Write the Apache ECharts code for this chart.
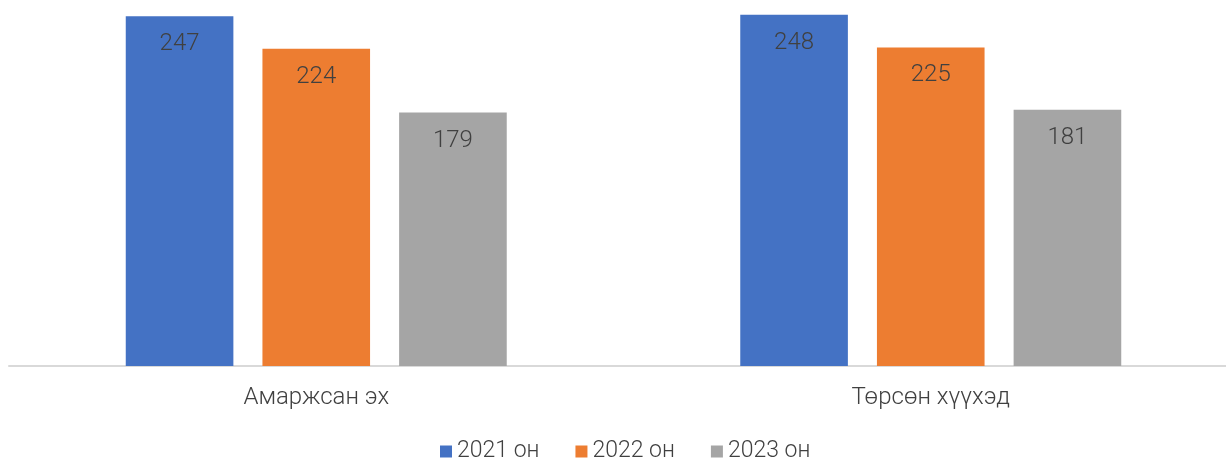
<!DOCTYPE html>
<html><head><meta charset="utf-8">
<script src="https://cdn.jsdelivr.net/npm/echarts@6/dist/echarts.min.js"></script>
<style>html,body{margin:0;padding:0;background:#fff;overflow:hidden;width:1226px;height:459px}#c{width:1238px;height:459px}</style>
</head><body><div id="c"></div>
<script>
const categories = ['Амаржсан эх', 'Төрсөн хүүхэд'];
const seriesNames = ['2021 он', '2022 он', '2023 он'];
const values2021 = [247, 248];
const values2022 = [224, 225];
const values2023 = [179, 181];
const colors = ['#4472C4', '#ED7D31', '#A5A5A5'];
const allValues = [values2021, values2022, values2023];

const chart = echarts.init(document.getElementById('c'));
const font = 'Roboto';
chart.setOption({
  animation: false,
  textStyle: { fontFamily: font },
  grid: { left: 9, right: 0, top: 12, bottom: 93, containLabel: false },
  legend: {
    left: 440, top: 440, padding: 0, itemWidth: 12, itemHeight: 12, itemGap: 36,
    icon: 'rect',
    textStyle: { fontSize: 23, color: '#404040', fontFamily: font, fontWeight: 300 },
    data: seriesNames
  },
  xAxis: {
    type: 'category', data: categories,
    axisLine: { lineStyle: { color: '#D9D9D9', width: 2 } },
    axisTick: { show: false },
    axisLabel: { fontSize: 24, color: '#404040', fontFamily: font, fontWeight: 300, margin: 20 }
  },
  yAxis: { type: 'value', min: 0, max: 250, show: false, splitLine: { show: false } },
  series: allValues.map((v, i) => ({
    name: seriesNames[i], type: 'bar', data: v,
    itemStyle: { color: colors[i] },
    barGap: '27%', barCategoryGap: '38%',
    label: { show: true, position: 'insideTop', distance: 16, fontSize: 24, color: '#404040', fontFamily: font, fontWeight: 300 }
  }))
});
</script></body></html>
